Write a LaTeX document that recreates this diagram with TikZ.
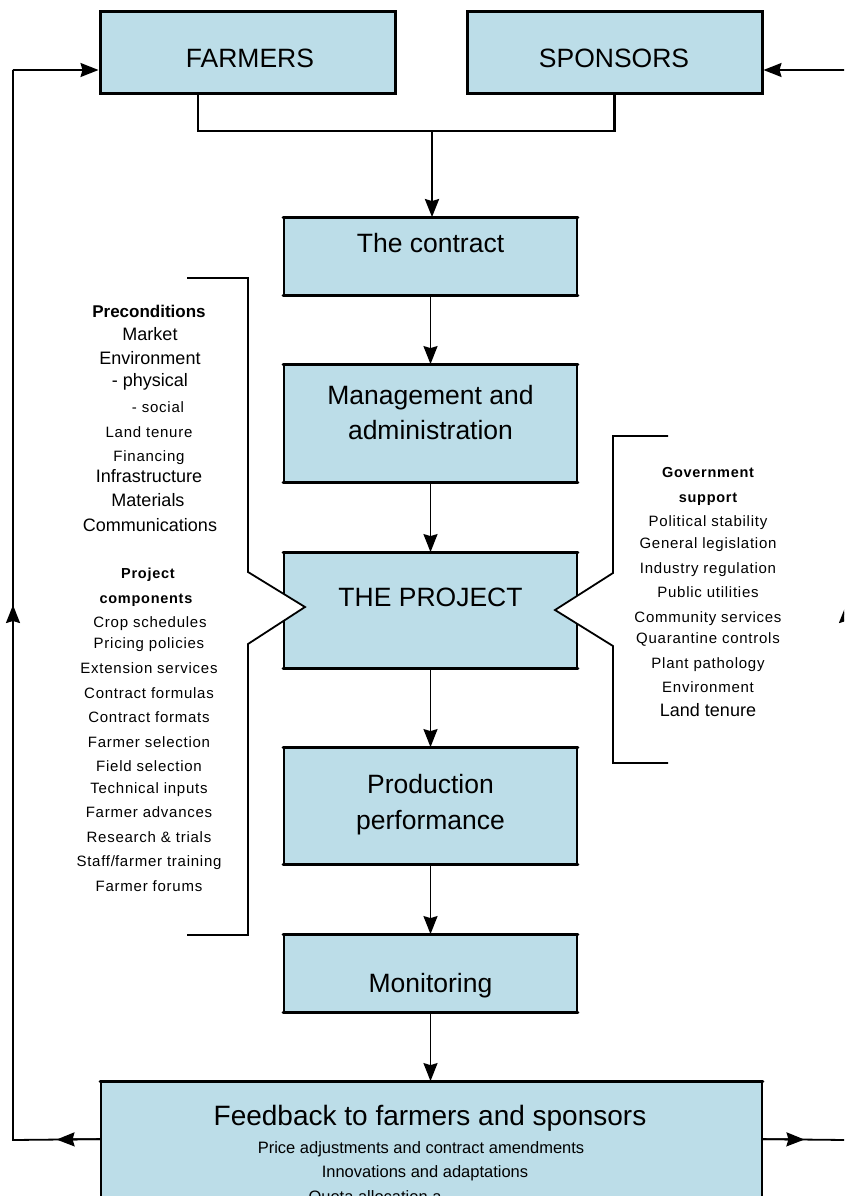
\documentclass[tikz,border=0pt]{standalone}
\usepackage{fontspec}
\setmainfont{Liberation Sans}
\newfontfamily\spacedsans[LetterSpace=5]{Liberation Sans}
\usetikzlibrary{arrows.meta,calc}
\definecolor{stageblue}{RGB}{188,221,232}

\begin{document}
\begin{tikzpicture}[x=1pt,y=-1pt,anchor=mid,
    party/.style={draw,line width=3pt,fill=stageblue,minimum width=295pt,minimum height=82pt,anchor=center},
    stage/.style={draw,line width=1.8pt,fill=stageblue,minimum width=293pt,anchor=center,inner sep=0pt},
    title/.style={font=\fontsize{26.5}{30}\selectfont,yshift=-7pt},
    big/.style={font=\fontsize{18}{21}\selectfont,yshift=-3pt},
    small/.style={font=\fontsize{15}{17}\spacedsans,yshift=-3pt},
    head/.style={font=\fontsize{17}{20}\selectfont\bfseries,yshift=-3pt},
    shead/.style={font=\fontsize{14.5}{17}\spacedsans\bfseries,yshift=-3pt},
    note/.style={font=\fontsize{16.5}{19}\selectfont,yshift=-4pt},
    flow/.style={line width=1.8pt},
    arr/.style={flow,-{Stealth[length=18pt,width=14pt,inset=2pt]}}]
    \useasboundingbox (0,0) rectangle (844,1196);
    \clip (0,0) rectangle (844,1196);

    \node[party] (farmers) at (247.5,53) {};
    \node[party] (sponsors) at (614.5,53) {};
    \node[stage,minimum height=77pt] (contract) at (430.5,256.5) {};
    \node[stage,minimum height=117pt] (manage) at (430.5,423.5) {};
    \node[stage,minimum height=115pt] (project) at (430.5,610.5) {};
    \node[stage,minimum height=116pt] (produce) at (430.5,806) {};
    \node[stage,minimum height=77pt] (monitor) at (430.5,973.5) {};
    \node[stage,minimum width=661pt,minimum height=208pt] (feedback) at (431.5,1186) {};
    \foreach \n in {contract,manage,project,produce,monitor,feedback}
      \draw[line width=3pt,line cap=round] (\n.north west) -- (\n.north east) (\n.south west) -- (\n.south east);

    \coordinate (fjoin) at (198,131);
    \coordinate (sjoin) at (614.5,131);
    \coordinate (mjoin) at (432,131);
    \draw[flow,line width=2.6pt] (farmers.south -| fjoin) -- (fjoin) -- (sjoin) -- (sponsors.south);
    \draw[arr,line width=2.6pt] (mjoin) -- (contract.north -| mjoin);
    \foreach \a/\b in {contract/manage,manage/project,project/produce,produce/monitor}
      \draw[arr] (\a) -- (\b);
    \draw[arr] (monitor) -- (monitor |- feedback.north);

    \coordinate (fbl) at ($(feedback.north west)+(0,58)$);
    \coordinate (fbr) at ($(feedback.north east)+(0,58)$);
    \coordinate (lb) at (13,1140);
    \coordinate (lt) at (13,70);
    \coordinate (rb) at (846,1140);
    \coordinate (rt) at (846,70);
    \draw[flow] (fbl) -- (lb) -- (lt);
    \draw[arr] (lt) -- (farmers.west |- lt);
    \draw[arr] (fbl) -- ($(fbl)!0.5!(lb)$);
    \draw[arr] (lb) -- ($(lb)!0.5!(lt)$);
    \draw[flow] (fbr) -- (rb) -- (rt);
    \draw[arr] (rt) -- (sponsors.east |- rt);
    \draw[arr] (fbr) -- ($(fbr)!0.5!(rb)$);
    \draw[arr] (rb) -- ($(rb)!0.5!(rt)$);

    \draw[flow,fill=white] (187,278) -- (248,278) -- (248,572) -- (305,607) -- (248,644) -- (248,935) -- (187,935);
    \draw[flow,fill=white] (668,436) -- (613,436) -- (613,573) -- (555,610) -- (613,646) -- (613,763) -- (668,763);

    \node[title] (farmersT) at (250,58) {FARMERS};
    \node[title] (sponsorsT) at (614,58) {SPONSORS};
    \node[title] (contractT) at (430.5,243) {The contract};
    \node[title] (manageA) at (430.5,395) {Management and};
    \node[title] (manageB) at (430.5,430) {administration};
    \node[title] (projectT) at (430.5,597) {THE PROJECT};
    \node[title] (produceA) at (430.5,784) {Production};
    \node[title] (produceB) at (430.5,820) {performance};
    \node[title] (monitorT) at (430.5,983) {Monitoring};
    \node[title,font=\fontsize{28}{32}\selectfont] (feedbackT) at (430,1116) {Feedback to farmers and sponsors};
    \node[note] (feedbackA) at (421,1147) {Price adjustments and contract amendments};
    \node[note] (feedbackB) at (425,1171) {Innovations and adaptations};
    \node[note] (feedbackC) at (375,1196) {Quota allocation a};

    \foreach \x/\y/\s/\t [count=\i] in {
      149/312/head/Preconditions, 150/335/big/Market, 150/359/big/Environment,
      150/381/big/- physical, 158/407/small/- social, 149/432/small/Land tenure,
      149/456/small/Financing, 149/477/big/Infrastructure, 148/501/big/Materials,
      150/526/big/Communications, 148/573/shead/Project, 146/598/shead/components,
      150/622/small/Crop schedules, 149/643/small/Pricing policies,
      149/668/small/Extension services, 149/693/small/Contract formulas,
      149/717/small/Contract formats, 149/742/small/Farmer selection,
      149/766/small/Field selection, 149/788/small/Technical inputs,
      149/812/small/Farmer advances, 149/837/small/Research \& trials,
      149/861/small/Staff\slash farmer training, 149/886/small/Farmer forums}
      \node[\s] (pre\i) at (\x,\y) {\t};

    \foreach \y/\s/\t [count=\i] in {
      472/shead/Government, 497/shead/support, 521/small/Political stability,
      543/small/General legislation, 568/small/Industry regulation,
      592/small/Public utilities, 617/small/Community services,
      638/small/Quarantine controls, 663/small/Plant pathology,
      687/small/Environment, 711/big/Land tenure}
      \node[\s] (gov\i) at (708,\y) {\t};
  \end{tikzpicture}
\end{document}
